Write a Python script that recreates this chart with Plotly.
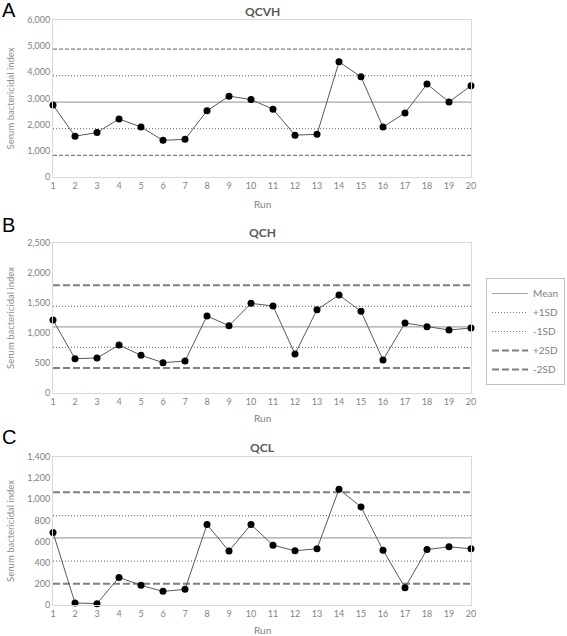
import plotly.graph_objects as go

runs = list(range(1, 21))

qcvh = [2750, 1560, 1700, 2220, 1910, 1400, 1440, 2530, 3090, 2960,
        2590, 1600, 1630, 4400, 3830, 1910, 2450, 3550, 2870, 3490]
qch = [1215, 572, 583, 800, 628, 506, 533, 1283, 1122, 1494,
       1450, 650, 1389, 1633, 1361, 550, 1167, 1106, 1050, 1083]
qcl = [686, 19, 13, 261, 186, 129, 148, 761, 510, 761,
       566, 513, 532, 1095, 928, 519, 164, 525, 550, 532]

# control limits: mean, +1SD, -1SD, +2SD, -2SD
limits_qcvh = [2860, 3875, 1845, 4890, 830]
limits_qch = [1103, 1444, 761, 1794, 417]
limits_qcl = [635, 846, 415, 1066, 201]

limit_names = ["Mean", "+1SD", "-1SD", "+2SD", "-2SD"]
panel_titles = ["QCVH", "QCH", "QCL"]
panel_letters = ["A", "B", "C"]
y_max = [6000, 2500, 1400]
y_step = [1000, 500, 200]

W, H = 567, 636
FONT = "Lato"

fig = go.Figure()

panels = [
    dict(vals=qcvh, lim=limits_qcvh, top=20, bot=177, dashw=1.2, dash="4px,2px",
         title_y=12, letter_y=10, run_y=204),
    dict(vals=qch, lim=limits_qch, top=243, bot=393, dashw=2, dash="7px,3px",
         title_y=233, letter_y=225, run_y=418),
    dict(vals=qcl, lim=limits_qcl, top=457, bot=605, dashw=2, dash="7px,3px",
         title_y=448, letter_y=437, run_y=630),
]
x0, x1 = 53, 471


def py(px):
    return 1 - px / H


for i, p in enumerate(panels):
    ax = "" if i == 0 else str(i + 1)
    xref, yref = "x" + ax, "y" + ax
    styles = [
        dict(color="#a6a6a6", width=1.2, dash="solid"),
        dict(color="#7f7f7f", width=1.2, dash="1px,2px"),
        dict(color="#7f7f7f", width=1.2, dash="1px,2px"),
        dict(color="#7f7f7f", width=p["dashw"], dash=p["dash"]),
        dict(color="#7f7f7f", width=p["dashw"], dash=p["dash"]),
    ]
    for name, v, st in zip(limit_names, p["lim"], styles):
        fig.add_trace(go.Scatter(
            x=[runs[0], runs[-1]], y=[v, v], mode="lines", name=name,
            line=st, xaxis=xref, yaxis=yref, showlegend=(i == 1),
            hoverinfo="skip"))
    fig.add_trace(go.Scatter(
        x=runs, y=p["vals"], mode="lines+markers", showlegend=False,
        line=dict(color="#595959", width=1),
        marker=dict(color="black", size=7),
        cliponaxis=False, xaxis=xref, yaxis=yref, name=panel_titles[i]))

    xd = [x0 / W, x1 / W]
    yd = [py(p["bot"]), py(p["top"])]
    fig.layout["xaxis" + ax] = dict(
        domain=xd, range=[1, 20], tickvals=runs, ticktext=[str(r) for r in runs],
        showline=True, linecolor="#d9d9d9", linewidth=1, mirror=True,
        showgrid=False, zeroline=False, ticks="", anchor=yref, automargin=False,
        tickfont=dict(family=FONT, size=9, color="#7f7f7f"))
    fig.layout["yaxis" + ax] = dict(
        domain=yd, range=[0, y_max[i]], dtick=y_step[i], tick0=0,
        tickformat=",", showline=True, linecolor="#d9d9d9", linewidth=1,
        mirror=True, showgrid=False, zeroline=False, ticks="", anchor=xref,
        automargin=False,
        tickfont=dict(family=FONT, size=9, color="#7f7f7f"))

    # panel title
    fig.add_annotation(text="<b>" + panel_titles[i] + "</b>", x=(x0 + x1) / 2 / W,
                       y=py(p["title_y"]), xref="paper", yref="paper",
                       xanchor="center", yanchor="middle", showarrow=False,
                       font=dict(family=FONT, size=12, color="#595959"))
    # panel letter
    fig.add_annotation(text=panel_letters[i], x=0, y=py(p["letter_y"]),
                       xref="paper", yref="paper", xanchor="left", yanchor="middle",
                       showarrow=False,
                       font=dict(family="Liberation Sans", size=20, color="black"))
    # y axis title
    fig.add_annotation(text="Serum bactericidal index", x=10 / W,
                       y=py((p["top"] + p["bot"]) / 2), xref="paper", yref="paper",
                       xanchor="center", yanchor="middle",
                       textangle=-90, showarrow=False,
                       font=dict(family=FONT, size=9.5, color="#8c8c8c"))
    # x axis title
    fig.add_annotation(text="Run", x=(x0 + x1) / 2 / W, y=py(p["run_y"]),
                       xref="paper", yref="paper", xanchor="center", yanchor="middle",
                       showarrow=False,
                       font=dict(family=FONT, size=10, color="#7f7f7f"))

fig.update_layout(
    width=W, height=H, margin=dict(l=0, r=0, t=0, b=0, autoexpand=False),
    paper_bgcolor="white", plot_bgcolor="white",
    showlegend=True,
    legend=dict(x=486 / W, y=py(278), xanchor="left", yanchor="top",
                bordercolor="#bfbfbf", borderwidth=1, itemwidth=36,
                tracegroupgap=0,
                font=dict(family=FONT, size=10, color="#7f7f7f")),
)

fig.write_html("out.html", config={"displayModeBar": False},
               post_script="document.body.style.margin='0';document.body.style.overflow='hidden';")
